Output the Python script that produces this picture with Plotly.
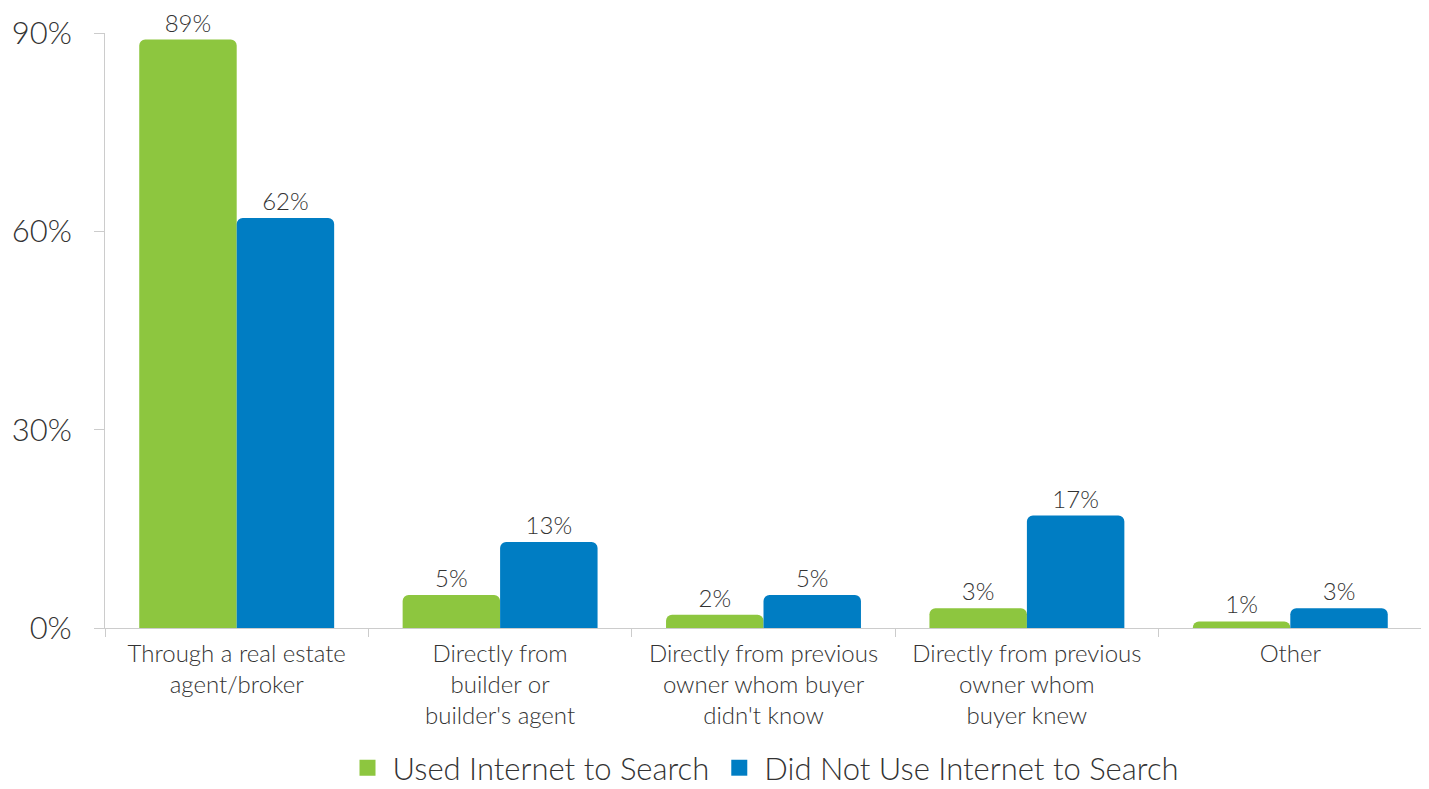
import plotly.graph_objects as go

categories = [
    'Through a real estate<br>agent/broker',
    'Directly from<br>builder or<br>builder\'s agent',
    'Directly from previous<br>owner whom buyer<br>didn\'t know',
    'Directly from previous<br>owner whom<br>buyer knew',
    'Other',
]
used_internet = [89, 5, 2, 3, 1]
no_internet = [62, 13, 5, 17, 3]
series_names = ['Used Internet to Search', 'Did Not Use Internet to Search']
colors = ['#8DC63F', '#007DC3']
y_ticks = [0, 30, 60, 90]

font_family = 'Lato, "Open Sans", sans-serif'
text_color = '#333333'

fig = go.Figure()
for name, vals, col in zip(series_names, [used_internet, no_internet], colors):
    fig.add_trace(go.Bar(
        x=categories,
        y=vals,
        name=name,
        showlegend=False,
        marker=dict(color=col, line=dict(width=0)),
        text=[f'{v}%' for v in vals],
        textposition='outside',
        cliponaxis=False,
        textfont=dict(size=24, color=text_color, family=font_family, weight=300),
    ))
    # legend entry with a bigger square swatch
    fig.add_trace(go.Scatter(
        x=[None], y=[None], mode='markers', name=name,
        marker=dict(symbol='square', size=16, color=col),
    ))

# page body adds an 8px offset, margins compensate for it
fig.update_layout(
    width=1429,
    height=789,
    barmode='group',
    bargap=0.26,
    bargroupgap=0,
    barcornerradius=6,
    plot_bgcolor='white',
    paper_bgcolor='white',
    margin=dict(l=97, r=15, t=25, b=169, autoexpand=False),
    font=dict(family=font_family, color=text_color, weight=300),
    showlegend=True,
    legend=dict(
        orientation='h',
        x=0.5, xanchor='center',
        y=-0.19, yanchor='top',
        font=dict(size=31, color=text_color, weight=300),
        itemwidth=40,
    ),
)
fig.update_xaxes(
    automargin=False,
    showline=True, linecolor='#cccccc', linewidth=1,
    ticks='outside', tickson='boundaries', ticklen=8, tickcolor='#cccccc',
    tickfont=dict(size=24, color=text_color, weight=300),
    ticklabelstandoff=4,
    showgrid=False,
)
fig.update_yaxes(
    automargin=False,
    range=[0, 90],
    tickmode='array',
    tickvals=y_ticks,
    ticktext=[f'{t}%' for t in y_ticks],
    showline=True, linecolor='#cccccc', linewidth=1,
    ticks='outside', ticklen=10, tickcolor='#cccccc',
    tickfont=dict(size=31, color=text_color, weight=300),
    ticklabelstandoff=16,
    showgrid=False, zeroline=False,
)

fig.write_html('out.html')
